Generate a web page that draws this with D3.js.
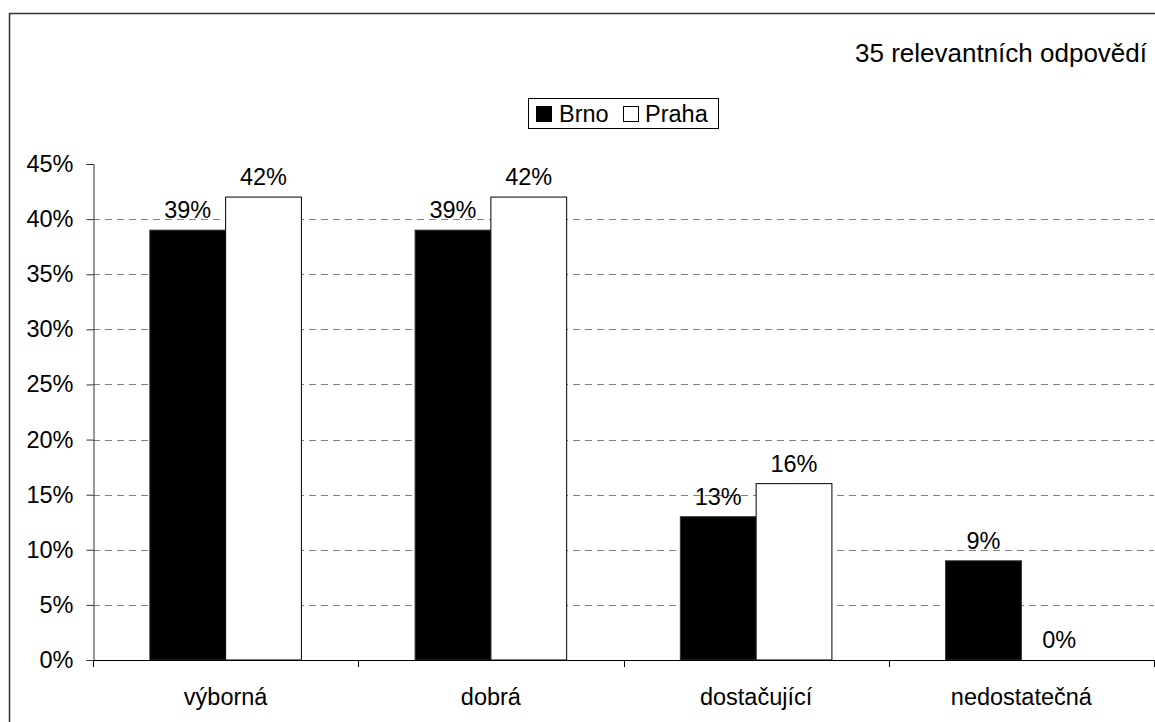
<!DOCTYPE html>
<html>
<head>
<meta charset="utf-8">
<script src="https://cdn.jsdelivr.net/npm/d3@7"></script>
<style>
  html, body { margin: 0; padding: 0; background: #fff; }
  svg text { font-family: Arial, "Liberation Sans", sans-serif; fill: #000; }
</style>
</head>
<body>
<svg id="chart" width="1155" height="722"></svg>
<script>
// Survey ratings, share of answers per city
const categories = ["výborná", "dobrá", "dostačující", "nedostatečná"];
const seriesNames = ["Brno", "Praha"];
const brnoValues = [39, 39, 13, 9];
const prahaValues = [42, 42, 16, 0];
const yTicks = [0, 5, 10, 15, 20, 25, 30, 35, 40, 45];
const noteText = "35 relevantních odpovědí";

const seriesFill = { Brno: "#000000", Praha: "#ffffff" };

const svg = d3.select("#chart");
const W = 1155, H = 722;
const plot = { left: 93, right: 1154, top: 164, bottom: 660 };
const fontSize = 23.5;

// outer frame
svg.append("rect")
  .attr("x", 9.5).attr("y", 13.5)
  .attr("width", W).attr("height", H)
  .attr("fill", "#fff")
  .attr("stroke", "#333").attr("stroke-width", 1.5);

const x0 = d3.scaleBand()
  .domain(categories)
  .range([plot.left, plot.right])
  .paddingInner(0).paddingOuter(0);

// two bars per group, gap equal to 1.5 bar widths
const groupWidth = x0.bandwidth() * 2 / 3.5;
const x1 = d3.scaleBand()
  .domain(seriesNames)
  .range([0, groupWidth])
  .padding(0);

const y = d3.scaleLinear().domain([0, 45]).range([plot.bottom, plot.top]);

// dashed gridlines (not at 0 or the top)
svg.append("g")
  .selectAll("line")
  .data(yTicks.filter(t => t > 0 && t < 45))
  .join("line")
  .attr("x1", plot.left).attr("x2", plot.right)
  .attr("y1", d => Math.round(y(d)) + 0.5)
  .attr("y2", d => Math.round(y(d)) + 0.5)
  .attr("stroke", "#808080").attr("stroke-width", 1)
  .attr("stroke-dasharray", "7,5");

const rows = categories.map((c, i) => ({
  category: c,
  values: [
    { name: "Brno", value: brnoValues[i] },
    { name: "Praha", value: prahaValues[i] }
  ]
}));

const groups = svg.append("g")
  .selectAll("g")
  .data(rows)
  .join("g")
  .attr("transform", d => `translate(${x0(d.category) + (x0.bandwidth() - groupWidth) / 2},0)`);

groups.selectAll("rect")
  .data(d => d.values)
  .join("rect")
  .attr("x", d => x1(d.name))
  .attr("y", d => y(d.value))
  .attr("width", x1.bandwidth())
  .attr("height", d => y(0) - y(d.value))
  .attr("fill", d => seriesFill[d.name])
  .attr("stroke", d => d.name === "Praha" ? "#000" : "#333")
  .attr("stroke-width", 1);

// value labels
groups.selectAll("text")
  .data(d => d.values)
  .join("text")
  .attr("x", d => x1(d.name) + x1.bandwidth() / 2)
  .attr("y", d => y(d.value) - 12)
  .attr("text-anchor", "middle")
  .attr("font-size", fontSize)
  .text(d => d.value + "%");

// y axis
const yAxis = d3.axisLeft(y)
  .tickValues(yTicks)
  .tickSize(7)
  .tickPadding(13)
  .tickFormat(d => d + "%");
const gy = svg.append("g")
  .attr("transform", `translate(${plot.left + 0.5},0)`)
  .call(yAxis);
gy.select(".domain").attr("stroke", "#333");
gy.selectAll(".tick line").attr("stroke", "#333");
gy.selectAll(".tick text")
  .attr("font-size", fontSize)
  .attr("font-family", "Arial, 'Liberation Sans', sans-serif")
  .attr("fill", "#000");

// x axis: baseline with ticks at category boundaries
const gx = svg.append("g");
gx.append("line")
  .attr("x1", plot.left).attr("x2", plot.right)
  .attr("y1", plot.bottom + 0.5).attr("y2", plot.bottom + 0.5)
  .attr("stroke", "#000").attr("stroke-width", 1);
const boundaries = categories.map(c => x0(c)).concat([x0(categories[categories.length - 1]) + x0.bandwidth()]);
gx.selectAll("line.tick")
  .data(boundaries)
  .join("line")
  .attr("class", "tick")
  .attr("x1", d => Math.round(d) + 0.5).attr("x2", d => Math.round(d) + 0.5)
  .attr("y1", plot.bottom).attr("y2", plot.bottom + 7)
  .attr("stroke", "#000");
gx.selectAll("text")
  .data(categories)
  .join("text")
  .attr("x", d => x0(d) + x0.bandwidth() / 2)
  .attr("y", 705)
  .attr("text-anchor", "middle")
  .attr("font-size", fontSize)
  .text(d => d);

// note in the top right corner
svg.append("text")
  .attr("x", 1147).attr("y", 62)
  .attr("text-anchor", "end")
  .attr("font-size", 26)
  .text(noteText);

// legend
const legend = svg.append("g");
legend.append("rect")
  .attr("x", 528.5).attr("y", 98.5)
  .attr("width", 190).attr("height", 30)
  .attr("fill", "#fff").attr("stroke", "#000");
const legendItems = [
  { name: seriesNames[0], sx: 536, tx: 559 },
  { name: seriesNames[1], sx: 623, tx: 645 }
];
legendItems.forEach(it => {
  legend.append("rect")
    .attr("x", it.sx + 0.5).attr("y", 106.5)
    .attr("width", 15).attr("height", 15)
    .attr("fill", seriesFill[it.name]).attr("stroke", "#000");
  legend.append("text")
    .attr("x", it.tx).attr("y", 122)
    .attr("font-size", fontSize)
    .text(it.name);
});
</script>
</body>
</html>
